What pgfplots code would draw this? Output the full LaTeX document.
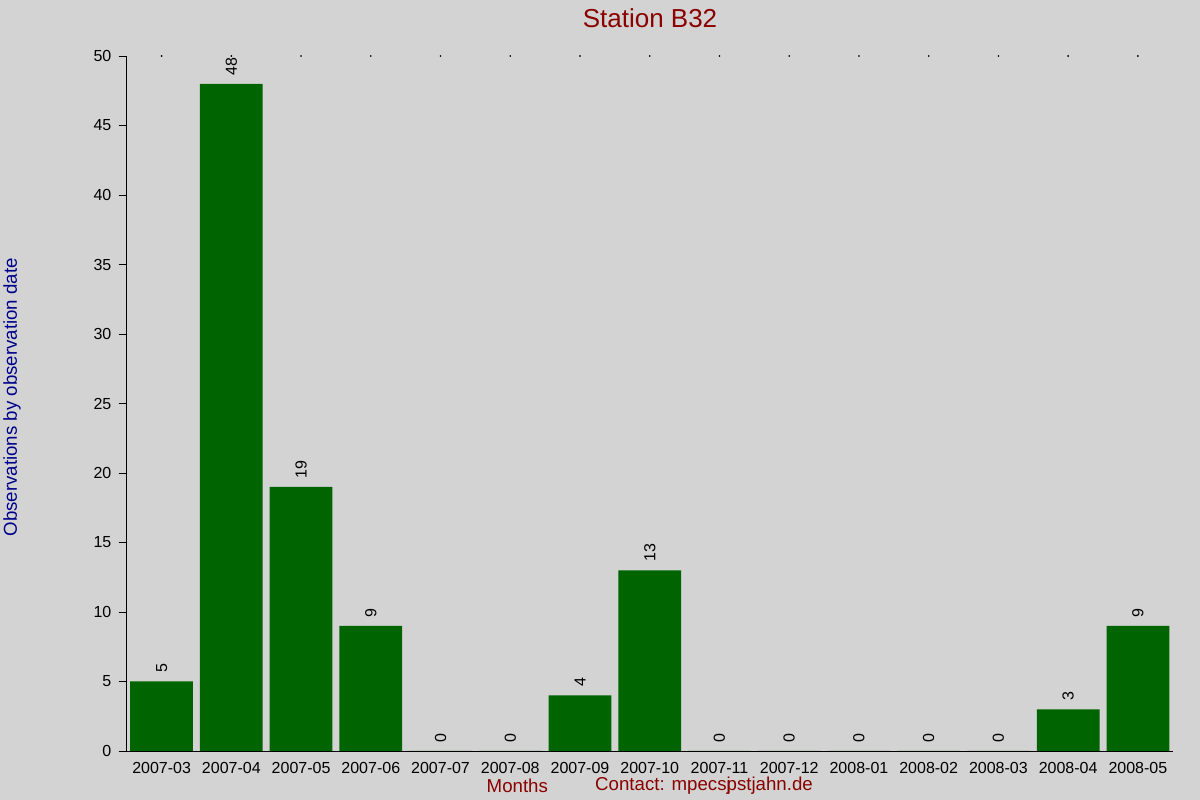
\documentclass[border=0pt]{standalone}
\usepackage{pgfplots}
\pgfplotsset{compat=1.18}
\usepackage{fontspec}
\setmainfont{Liberation Sans}
\definecolor{bg}{HTML}{D3D3D3}
\definecolor{bargreen}{HTML}{006400}
\definecolor{titlered}{HTML}{8B0000}
\definecolor{labelblue}{HTML}{00008B}
\begin{document}
\begin{tikzpicture}[x=1pt,y=1pt]
\useasboundingbox (0,0) rectangle (900,600);
\fill[bg] (0,0) rectangle (900,600);
\begin{axis}[
  at={(95.06pt,36.75pt)}, anchor=south west,
  scale only axis, width=784.5pt, height=521.25pt,
  xmin=-0.5, xmax=14.5, ymin=0, ymax=50,
  axis x line*=bottom, axis y line*=left,
  axis line style={-, black},
  xtick={0,...,14},
  xticklabels={2007-03,2007-04,2007-05,2007-06,2007-07,2007-08,2007-09,2007-10,2007-11,2007-12,2008-01,2008-02,2008-03,2008-04,2008-05},
  x tick style={draw=none},
  ytick={0,5,...,50},
  y tick style={black, thin},
  tick align=outside, major tick length=6pt,
  ticklabel style={font=\fontsize{12}{14}\selectfont},
  xticklabel style={yshift=1pt},
  yticklabel style={xshift=-2pt},
  /pgf/number format/assume math mode=true,
  ybar, bar width=0.9, bar shift=0pt,
  clip=false,
]
\addplot[fill=bargreen, draw=none,
  nodes near coords,
  every node near coord/.append style={rotate=90, anchor=west, xshift=3pt, font=\fontsize{12}{14}\selectfont, black}]
  coordinates {(0,5) (1,48) (2,19) (3,9) (4,0) (5,0) (6,4) (7,13) (8,0) (9,0) (10,0) (11,0) (12,0) (13,3) (14,9)};
\addplot[only marks, mark=*, mark size=0.4pt, black, forget plot]
  coordinates {(0,50) (1,50) (2,50) (3,50) (4,50) (5,50) (6,50) (7,50) (8,50) (9,50) (10,50) (11,50) (12,50) (13,50) (14,50)};
\end{axis}
\node[font=\fontsize{19.5}{22}\selectfont, text=titlered] at (487.5,586.5) {Station B32};
\node[font=\fontsize{14}{16}\selectfont, text=labelblue, rotate=90] at (9,302) {Observations by observation date};
\node[font=\fontsize{14}{16}\selectfont, text=titlered] at (388,10.5) {Months};
\node[font=\fontsize{14}{16}\selectfont, text=titlered] at (528,10.5) {Contact: mpecs\rlap{j}pstjahn.de};
\end{tikzpicture}
\end{document}
